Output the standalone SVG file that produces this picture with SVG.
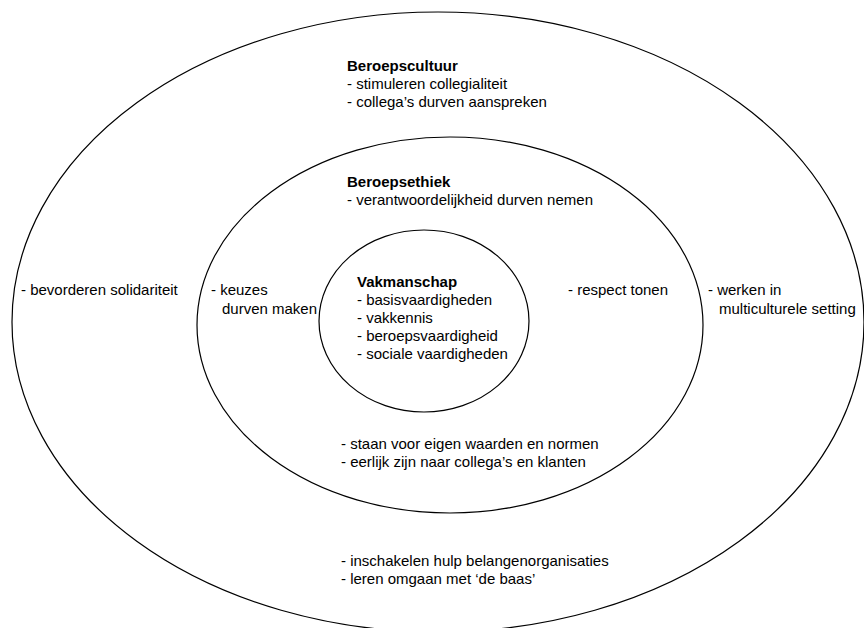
<svg xmlns="http://www.w3.org/2000/svg" width="864" height="628" viewBox="0 0 864 628">
<style>
.ring{fill:none;stroke:#000;stroke-width:1.2}
text{font-family:"Liberation Sans",Arial,sans-serif;font-size:15px;fill:#000}
.b{font-weight:bold}
</style>
<rect width="864" height="628" fill="#fff"/>
<g id="beroepscultuur">
<ellipse class="ring" cx="438" cy="322" rx="426" ry="310"/>
<text class="b" x="347" y="71">Beroepscultuur</text>
<text x="347" y="89">- stimuleren collegialiteit</text>
<text x="347" y="107">- collega’s durven aanspreken</text>
<text x="21" y="295">- bevorderen solidariteit</text>
<text x="708" y="295">- werken in</text>
<text x="719" y="314">multiculturele setting</text>
<text x="341" y="566">- inschakelen hulp belangenorganisaties</text>
<text x="341" y="584">- leren omgaan met ‘de baas’</text>
</g>
<g id="beroepsethiek">
<ellipse class="ring" cx="450" cy="325" rx="253" ry="188"/>
<text class="b" x="347" y="187">Beroepsethiek</text>
<text x="347" y="205">- verantwoordelijkheid durven nemen</text>
<text x="211" y="295">- keuzes</text>
<text x="222" y="314">durven maken</text>
<text x="568" y="295">- respect tonen</text>
<text x="341" y="449">- staan voor eigen waarden en normen</text>
<text x="341" y="467">- eerlijk zijn naar collega’s en klanten</text>
</g>
<g id="vakmanschap">
<ellipse class="ring" cx="424" cy="321" rx="105" ry="91"/>
<text class="b" x="357" y="287">Vakmanschap</text>
<text x="357" y="305">- basisvaardigheden</text>
<text x="357" y="323">- vakkennis</text>
<text x="357" y="341">- beroepsvaardigheid</text>
<text x="357" y="359">- sociale vaardigheden</text>
</g>
</svg>
